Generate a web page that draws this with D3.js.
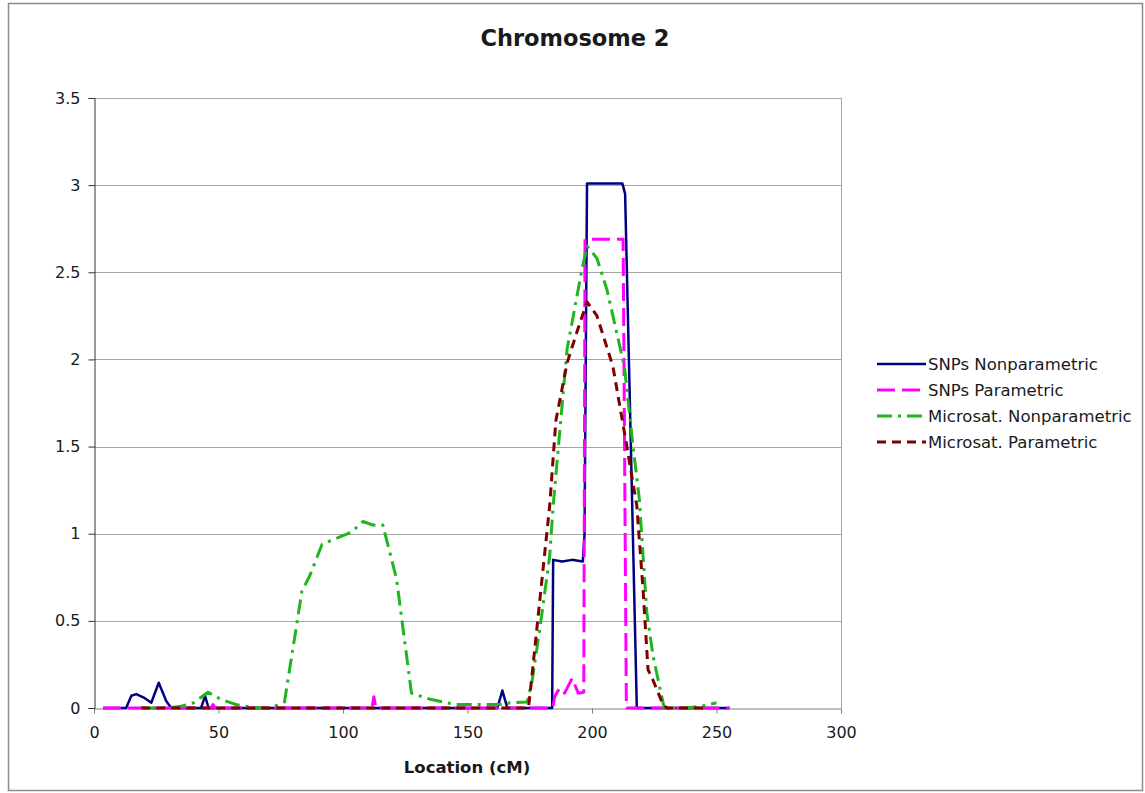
<!DOCTYPE html>
<html><head><meta charset="utf-8">
<script src="https://cdn.jsdelivr.net/npm/d3@7"></script>
<style>body{margin:0;background:#fff}svg{display:block}text{font-family:"DejaVu Sans",Verdana,sans-serif;fill:#1a1a1a}</style>
</head><body><svg id="c" width="1145" height="793"></svg>
<script>
const title = "Chromosome 2";
const xLabel = "Location (cM)";
const xTicks = [0, 50, 100, 150, 200, 250, 300];
const yTicks = [0, 0.5, 1, 1.5, 2, 2.5, 3, 3.5];
const seriesNames = ["SNPs Nonparametric", "SNPs Parametric", "Microsat. Nonparametric", "Microsat. Parametric"];

const snpsNonparX = [3.6, 12.9, 15, 17, 20, 23, 26, 29, 31, 43, 44.6, 46, 162, 164, 166, 184, 184.4, 188, 192, 196.3, 197, 198, 212.2, 213.3, 218, 255];
const snpsNonparY = [0, 0, 0.07, 0.08, 0.06, 0.03, 0.145, 0.04, 0, 0, 0.07, 0, 0, 0.1, 0, 0, 0.85, 0.84, 0.85, 0.84, 1.0, 3.01, 3.01, 2.95, 0, 0];

const snpsParX = [3.6, 47, 47.8, 48.6, 111.6, 112.4, 113.2, 184.3, 185, 187, 189, 192, 194.5, 196.7, 197.2, 212.5, 213.8, 255.4];
const snpsParY = [0, 0, 0.02, 0, 0, 0.065, 0, 0, 0.065, 0.115, 0.085, 0.17, 0.085, 0.09, 2.69, 2.69, 0, 0];

const msNonparX = [19, 29, 35, 40, 45.8, 51, 57, 63, 67, 71, 76.5, 83.5, 86.7, 91.6, 102, 105, 108, 112, 116, 121.5, 127.5, 135, 145, 155, 165, 167, 174, 176, 179, 183, 184.4, 190, 196, 198, 202, 206, 213, 216.5, 219, 222, 224.5, 229, 238, 244, 250];
const msNonparY = [0, 0, 0.01, 0.03, 0.09, 0.05, 0.02, 0.005, 0, 0, 0.035, 0.67, 0.76, 0.94, 1.0, 1.03, 1.07, 1.05, 1.05, 0.74, 0.085, 0.05, 0.02, 0.02, 0.02, 0.03, 0.035, 0.16, 0.45, 0.87, 1.16, 2.06, 2.52, 2.65, 2.58, 2.40, 1.96, 1.5, 1.2, 0.55, 0.3, 0, 0, 0.01, 0.03];

const msParX = [19, 174.5, 176, 180, 183, 185.5, 190, 194, 198, 202, 208.4, 214, 218, 220.5, 222.5, 224.5, 228.5, 230, 246.5];
const msParY = [0, 0, 0.2, 0.75, 1.16, 1.65, 1.98, 2.16, 2.33, 2.25, 1.96, 1.5, 1.16, 0.68, 0.22, 0.16, 0.02, 0, 0];

const series = [
  {name: seriesNames[0], xs: snpsNonparX, ys: snpsNonparY, color: "#000080", width: 2.5, dash: null},
  {name: seriesNames[1], xs: snpsParX, ys: snpsParY, color: "#ff00ff", width: 3, dash: "18,7"},
  {name: seriesNames[2], xs: msNonparX, ys: msNonparY, color: "#1fb51f", width: 3, dash: "15,6,3,6"},
  {name: seriesNames[3], xs: msParX, ys: msParY, color: "#800000", width: 3, dash: "9,6"}
];

const svg = d3.select("#c");
svg.append("rect").attr("x", 8.5).attr("y", 3.5).attr("width", 1134).attr("height", 787)
  .attr("fill", "#fff").attr("stroke", "#8c8c8c").attr("stroke-width", 1.5);

const L = 94, R = 841, T = 98, B = 708;
const x = d3.scaleLinear().domain([0, 300]).range([L, R]);
const y = d3.scaleLinear().domain([0, 3.5]).range([B, T]);

// gridlines
svg.append("g").selectAll("line").data(yTicks.filter(d => d > 0)).join("line")
  .attr("x1", L).attr("x2", R).attr("y1", d => Math.round(y(d)) + 0.5).attr("y2", d => Math.round(y(d)) + 0.5)
  .attr("stroke", "#a6a6a6").attr("stroke-width", 1);
// right border
svg.append("line").attr("x1", R + 0.5).attr("x2", R + 0.5).attr("y1", T).attr("y2", B)
  .attr("stroke", "#a6a6a6").attr("stroke-width", 1);

// x axis
const xAxis = svg.append("g").attr("transform", `translate(0,${B + 0.5})`)
  .call(d3.axisBottom(x).tickValues(xTicks).tickSize(5).tickPadding(13).tickFormat(d3.format("d")));
xAxis.select(".domain").attr("stroke", "#808080");
xAxis.selectAll(".tick line").attr("stroke", "#808080");
xAxis.selectAll("text").attr("font-size", 16).attr("font-family", "DejaVu Sans, Verdana, sans-serif").attr("fill", "#1a1a1a");

// y axis
const yAxis = svg.append("g").attr("transform", `translate(${L + 0.5},0)`)
  .call(d3.axisLeft(y).tickValues(yTicks).tickSize(6).tickPadding(8).tickFormat(d3.format("")));
yAxis.select(".domain").attr("stroke", "#333");
yAxis.selectAll(".tick line").attr("stroke", "#333");
yAxis.selectAll("text").attr("font-size", 16).attr("font-family", "DejaVu Sans, Verdana, sans-serif").attr("fill", "#1a1a1a");

// lines
const line = d3.line().x(d => x(d[0])).y(d => y(d[1]));
series.forEach(s => {
  const pts = s.xs.map((v, i) => [v, s.ys[i]]);
  svg.append("path").datum(pts).attr("d", line).attr("fill", "none")
    .attr("stroke", s.color).attr("stroke-width", s.width)
    .attr("stroke-dasharray", s.dash).attr("stroke-linejoin", "round");
});

// title
svg.append("text").attr("x", 575).attr("y", 46).attr("text-anchor", "middle")
  .attr("font-size", 22.5).attr("font-weight", "bold").text(title);
svg.append("text").attr("x", 467).attr("y", 773).attr("text-anchor", "middle")
  .attr("font-size", 16.5).attr("font-weight", "bold").text(xLabel);

// legend
const lg = svg.append("g");
series.forEach((s, i) => {
  const yy = 364 + i * 26;
  lg.append("line").attr("x1", 877).attr("x2", 926).attr("y1", yy).attr("y2", yy)
    .attr("stroke", s.color).attr("stroke-width", s.width).attr("stroke-dasharray", s.dash);
  lg.append("text").attr("x", 928).attr("y", yy + 6).attr("font-size", 16.5).text(s.name);
});
</script></body></html>
